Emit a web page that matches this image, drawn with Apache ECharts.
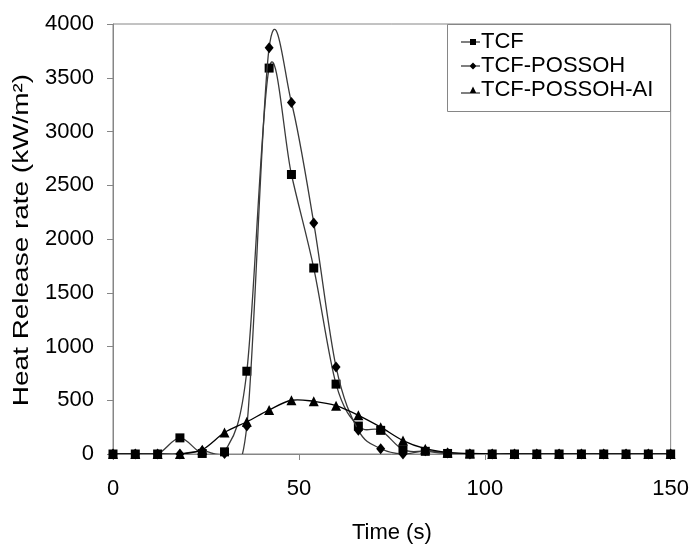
<!DOCTYPE html>
<html>
<head>
<meta charset="utf-8">
<script src="https://cdn.jsdelivr.net/npm/echarts@6/dist/echarts.min.js"></script>
<style>
html,body{margin:0;padding:0;background:#fff;}
#chart{width:692px;height:549px;}
</style>
</head>
<body>
<div id="chart"></div>
<script>
// Time (s)
const times = [0,6,12,18,24,30,36,42,48,54,60,66,72,78,84,90,96,102,108,114,120,126,132,138,144,150];
// Heat release rate (kW/m2)
const tcf         = [0,0,0,150,5,20,770,3590,2600,1730,650,260,220,40,25,5,0,0,0,0,0,0,0,0,0,0];
const tcfPossoh   = [0,0,0,0,30,5,260,3780,3270,2150,810,220,50,0,30,10,0,0,0,0,0,0,0,0,0,0];
const tcfPossohAl = [0,0,0,0,40,200,300,410,500,490,450,360,250,125,50,15,5,0,0,0,0,0,0,0,0,0];
const seriesNames = ['TCF','TCF-POSSOH','TCF-POSSOH-AI'];
const xTicks = [0,50,100,150];
const yTicks = [0,500,1000,1500,2000,2500,3000,3500,4000];
const xTitle = 'Time (s)';
const yTitle = 'Heat Release rate (kW/m²)';

const pair = arr => times.map((t,i)=>[t,arr[i]]);
const FONT = '"Liberation Sans", Arial, sans-serif';
const axisGray = '#868686';

// Excel-like smoothed line (Catmull-Rom Bezier) drawn through the axis scales
function curveSeries(arr, color, z){
  const pts = pair(arr);
  const n = pts.length;
  return {
    type:'custom', name:'curve', silent:true, z:z, clip:true,
    data:pts, encode:{x:0,y:1},
    renderItem:function(params, api){
      const i = params.dataIndex;
      if(i >= n-1) return;
      const c = k => api.coord(pts[Math.max(0,Math.min(n-1,k))]);
      const p0=c(i-1), p1=c(i), p2=c(i+1), p3=c(i+2);
      return {
        type:'bezierCurve',
        shape:{
          x1:p1[0], y1:p1[1], x2:p2[0], y2:p2[1],
          cpx1:p1[0]+(p2[0]-p0[0])/6, cpy1:p1[1]+(p2[1]-p0[1])/6,
          cpx2:p2[0]-(p3[0]-p1[0])/6, cpy2:p2[1]-(p3[1]-p1[1])/6
        },
        style:{stroke:color, lineWidth:1.3, fill:null}
      };
    }
  };
}
function markerSeries(name, arr, symbol, size, z){
  return {name:name, type:'line', data:pair(arr), symbol:symbol, symbolSize:size,
    showAllSymbol:true, itemStyle:{color:'#000'}, lineStyle:{width:0,opacity:0}, z:z};
}

const chart = echarts.init(document.getElementById('chart'), null, {renderer:'canvas'});
chart.setOption({
  animation:false,
  backgroundColor:'#fff',
  grid:{left:113,right:20,top:24,bottom:87,show:true,borderColor:axisGray,borderWidth:1},
  legend:{
    left:456, top:25, orient:'vertical', itemGap:0,
    itemWidth:19, itemHeight:7, itemSymbolKeepAspect:false,
    textStyle:{fontFamily:FONT,fontSize:22,color:'#000',lineHeight:24,padding:[0,0,0,-4]},
    data:[
      {name:seriesNames[0], icon:'path://M0,3H19V4H0Z M9,0.5H15V6.5H9Z'},
      {name:seriesNames[1], icon:'path://M0,3H19V4H0Z M12,0L15.5,3.5L12,7L8.5,3.5Z'},
      {name:seriesNames[2], icon:'path://M0,6H19V7H0Z M12,0L15.5,7L8.5,7Z'}
    ]
  },
  graphic:[
    {type:'rect',shape:{x:447.5,y:24.5,width:223,height:87},style:{fill:'none',stroke:axisGray,lineWidth:1},z:100},
    {type:'text',x:22,y:240,rotation:Math.PI/2,scaleX:1.27,
     style:{text:yTitle,fontFamily:FONT,fontSize:22,fill:'#000',align:'center',verticalAlign:'middle'}}
  ],
  xAxis:{
    type:'value',min:xTicks[0],max:xTicks[xTicks.length-1],interval:50,
    name:xTitle,nameLocation:'middle',nameGap:68,
    nameTextStyle:{fontFamily:FONT,fontSize:22,color:'#000'},
    axisLine:{lineStyle:{color:axisGray,width:1}},
    axisTick:{show:true,inside:false,length:6,lineStyle:{color:axisGray}},
    axisLabel:{fontFamily:FONT,fontSize:22,color:'#000',margin:24},
    splitLine:{show:false}
  },
  yAxis:{
    type:'value',min:yTicks[0],max:yTicks[yTicks.length-1],interval:500,
    axisLine:{show:true,lineStyle:{color:axisGray,width:1}},
    axisTick:{show:true,inside:false,length:6,lineStyle:{color:axisGray}},
    axisLabel:{fontFamily:FONT,fontSize:22,color:'#000',margin:19,formatter:v=>String(v)},
    splitLine:{show:false}
  },
  series:[
    curveSeries(tcf,'#3a3a3a',2),
    markerSeries(seriesNames[0], tcf, 'rect', 9, 3),
    curveSeries(tcfPossoh,'#3a3a3a',4),
    markerSeries(seriesNames[1], tcfPossoh, 'diamond', [9,11], 5),
    curveSeries(tcfPossohAl,'#000',6),
    markerSeries(seriesNames[2], tcfPossohAl, 'triangle', 10, 7)
  ]
});
</script>
</body>
</html>
